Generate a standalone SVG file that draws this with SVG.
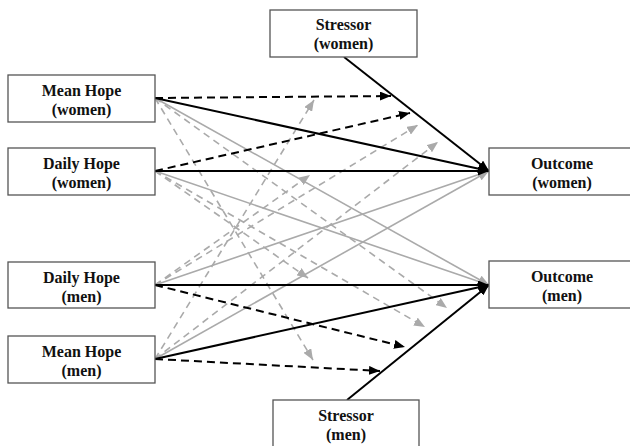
<svg xmlns="http://www.w3.org/2000/svg" width="630" height="446" viewBox="0 0 630 446">
<style>
.box{fill:#fff;stroke:#555;stroke-width:1.3}
.lbl{font-family:"Liberation Serif","Times New Roman",serif;font-weight:bold;font-size:16px;fill:#111;text-anchor:middle}
.bs{stroke:#000;stroke-width:2;fill:none;marker-end:url(#ab)}
.bd{stroke:#000;stroke-width:2;fill:none;stroke-dasharray:8 5;marker-end:url(#ab)}
.gs{stroke:#aaa;stroke-width:1.6;fill:none;marker-end:url(#ag)}
.gd{stroke:#aaa;stroke-width:1.6;fill:none;stroke-dasharray:7 5;marker-end:url(#ag)}
</style>
<defs>
<marker id="ab" markerUnits="userSpaceOnUse" markerWidth="11" markerHeight="9" refX="11" refY="4.5" orient="auto"><path d="M0,0 L11,4.5 L0,9 z" fill="#000"/></marker>
<marker id="ag" markerUnits="userSpaceOnUse" markerWidth="11" markerHeight="9" refX="11" refY="4.5" orient="auto"><path d="M0,0 L11,4.5 L0,9 z" fill="#aaa"/></marker>
</defs>
<rect width="630" height="446" fill="#fff"/>
<g id="connectors">
<line class="gs" x1="155" y1="98" x2="489" y2="285"/>
<line class="gs" x1="155" y1="171" x2="489" y2="285"/>
<line class="gs" x1="155" y1="285" x2="489" y2="171"/>
<line class="gs" x1="155" y1="359" x2="489" y2="171"/>
<line class="gd" x1="155" y1="98" x2="313" y2="360"/>
<line class="gd" x1="155" y1="98" x2="447" y2="308"/>
<line class="gd" x1="155" y1="171" x2="308" y2="278"/>
<line class="gd" x1="155" y1="171" x2="425" y2="327"/>
<line class="gd" x1="155" y1="359" x2="314" y2="100"/>
<line class="gd" x1="155" y1="359" x2="438" y2="142"/>
<line class="gd" x1="155" y1="285" x2="310" y2="175"/>
<line class="gd" x1="155" y1="285" x2="418" y2="125"/>
<line class="bs" x1="155" y1="98" x2="489" y2="171"/>
<line class="bs" x1="155" y1="171" x2="489" y2="171"/>
<line class="bs" x1="344" y1="57" x2="489" y2="171"/>
<line class="bs" x1="155" y1="285" x2="489" y2="285"/>
<line class="bs" x1="155" y1="359" x2="489" y2="285"/>
<line class="bs" x1="347" y1="400" x2="489" y2="285"/>
<line class="bd" x1="155" y1="98" x2="391" y2="96"/>
<line class="bd" x1="155" y1="171" x2="410" y2="113"/>
<line class="bd" x1="155" y1="285" x2="405" y2="347"/>
<line class="bd" x1="155" y1="359" x2="380" y2="371"/>
</g>
<g id="mean-hope-women"><rect class="box" x="8" y="75" width="147" height="47"/><text class="lbl" x="81.5" y="96">Mean Hope</text><text class="lbl" x="81.5" y="115">(women)</text></g>
<g id="daily-hope-women"><rect class="box" x="8" y="148" width="147" height="47"/><text class="lbl" x="81.5" y="169">Daily Hope</text><text class="lbl" x="81.5" y="188">(women)</text></g>
<g id="daily-hope-men"><rect class="box" x="8" y="262" width="147" height="46"/><text class="lbl" x="81.5" y="283">Daily Hope</text><text class="lbl" x="81.5" y="302">(men)</text></g>
<g id="mean-hope-men"><rect class="box" x="8" y="336" width="147" height="47"/><text class="lbl" x="81.5" y="357">Mean Hope</text><text class="lbl" x="81.5" y="376">(men)</text></g>
<g id="stressor-women"><rect class="box" x="270" y="10" width="147" height="47"/><text class="lbl" x="343.5" y="30">Stressor</text><text class="lbl" x="343.5" y="49">(women)</text></g>
<g id="outcome-women"><rect class="box" x="489" y="148" width="146" height="47"/><text class="lbl" x="562" y="168.5">Outcome</text><text class="lbl" x="562" y="187.5">(women)</text></g>
<g id="outcome-men"><rect class="box" x="489" y="261" width="146" height="47"/><text class="lbl" x="562" y="281.5">Outcome</text><text class="lbl" x="562" y="300.5">(men)</text></g>
<g id="stressor-men"><rect class="box" x="273" y="400" width="146" height="50"/><text class="lbl" x="346" y="421">Stressor</text><text class="lbl" x="346" y="440">(men)</text></g>
</svg>
